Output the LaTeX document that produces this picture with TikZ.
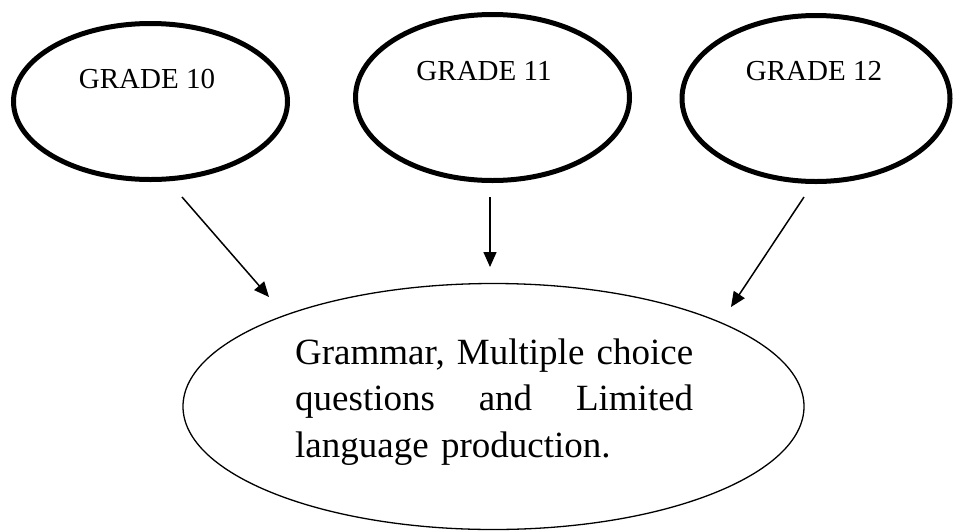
\documentclass[tikz,border=0pt]{standalone}
\usepackage{fontspec}
\setmainfont{Liberation Serif}
\usetikzlibrary{arrows.meta,shapes.geometric}
\begin{document}
\begin{tikzpicture}[x=1pt,y=-1pt,
  gradebox/.style={ellipse,draw=black,line width=5pt,inner sep=0pt},
  gradetext/.style={anchor=base,inner sep=0pt,font=\fontsize{29}{34}\selectfont},
  bigbox/.style={ellipse,draw=black,line width=1.3pt,inner sep=0pt},
  arr/.style={line width=1.5pt,-{Triangle[length=15pt,width=13pt]}}]
\useasboundingbox (0,0) rectangle (954,531);
% grade ellipses
\node[gradebox,minimum width=274pt,minimum height=156pt] (e1) at (150.5,101.5) {};
\node[gradebox,minimum width=274pt,minimum height=166pt] (e2) at (492.5,97.5) {};
\node[gradebox,minimum width=268pt,minimum height=166pt] (e3) at (816,98.5) {};
\node[gradetext] (t1) at (147,88) {GRADE 10};
\node[gradetext] (t2) at (484,80) {GRADE 11};
\node[gradetext] (t3) at (814,80) {GRADE 12};
% big ellipse
\node[bigbox,minimum width=621pt,minimum height=246pt] (big) at (493.5,406.5) {};
\node[anchor=base west,inner sep=0pt,text width=398pt,align=left,
      font=\fontsize{37}{46.5}\selectfont] (bt) at (295,364)
  {\makebox[398pt][l]{Grammar,\hfill Multiple\hfill choice}\\
   \makebox[398pt][l]{questions\hfill and\hfill Limited}\\
   language production.};
% arrows
\coordinate (a1s) at (182,197); \coordinate (a1e) at (269,297);
\coordinate (a2s) at (490,197); \coordinate (a2e) at (490,267);
\coordinate (a3s) at (804,197); \coordinate (a3e) at (731,307);
\draw[arr] (a1s) -- (a1e);
\draw[arr] (a2s) -- (a2e);
\draw[arr] (a3s) -- (a3e);
\end{tikzpicture}
\end{document}
